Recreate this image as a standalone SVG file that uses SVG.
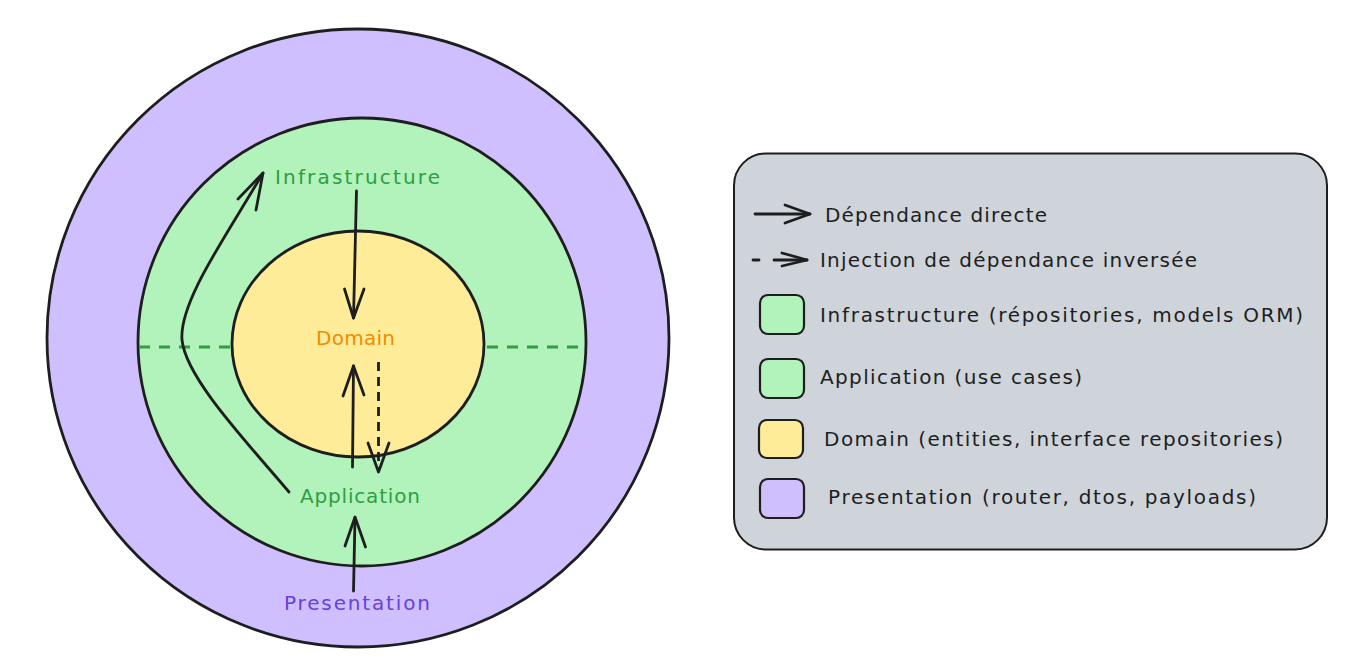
<svg xmlns="http://www.w3.org/2000/svg" width="1363" height="665" viewBox="0 0 1363 665">
<style>
  .ring { stroke: #1e1e1e; stroke-width: 2.8; }
  .lbl { font-family: "DejaVu Sans", "Liberation Sans", sans-serif; font-size: 20px; }
  .leg { font-family: "DejaVu Sans", "Liberation Sans", sans-serif; font-size: 20px; fill: #1e1e1e; }
  .arr { fill: none; stroke: #1e1e1e; stroke-width: 2.8; stroke-linecap: round; stroke-linejoin: round; }
  .dash { stroke-dasharray: 9 6; stroke-linecap: butt; }
  .gdash { fill: none; stroke: #2f9e44; stroke-width: 3; stroke-dasharray: 11 9; }
  .sw { stroke: #1e1e1e; stroke-width: 2.2; }
</style>
<rect width="1363" height="665" fill="#ffffff"/>

<g id="node-presentation">
  <ellipse class="ring" cx="358" cy="338" rx="311" ry="309" fill="#d0bfff"/>
  <text class="lbl" x="284" y="610" fill="#6741d9" textLength="146">Presentation</text>
</g>

<g id="node-application-infrastructure">
  <ellipse class="ring" cx="362" cy="342" rx="224" ry="224" fill="#b2f2bb"/>
  <line class="gdash" x1="139" y1="347" x2="232" y2="347"/>
  <line class="gdash" x1="487" y1="347" x2="585" y2="347"/>
  <text class="lbl" x="275" y="184" fill="#2f9e44" textLength="165">Infrastructure</text>
  <text class="lbl" x="300" y="503" fill="#2f9e44" textLength="120">Application</text>
</g>

<g id="node-domain">
  <ellipse class="ring" cx="358" cy="344" rx="126" ry="113" fill="#ffec99" stroke-width="3.2"/>
  <text class="lbl" x="316" y="345" fill="#f08c00" textLength="79">Domain</text>
</g>

<g id="connectors">
  <!-- Infrastructure -> Domain -->
  <path class="arr" d="M356.5,191 L353.5,318"/>
  <path class="arr" d="M344.5,289 L353.5,318 L364,289"/>
  <!-- Application -> Domain -->
  <path class="arr" d="M352.5,467 L353.5,366"/>
  <path class="arr" d="M343,396 L353.5,366 L364,395"/>
  <!-- Domain -. Application (injection) -->
  <path class="arr dash" d="M378.5,362 L378.5,470"/>
  <path class="arr" d="M368,443 L378.5,472 L389,443"/>
  <!-- Presentation -> Application -->
  <path class="arr" d="M353.5,591 L355,518"/>
  <path class="arr" d="M345,546 L355,517 L365.5,547"/>
  <!-- Application -> Infrastructure (curved) -->
  <path class="arr" d="M289,492 C 245,440 186,378 182,340 C 179,302 225,238 263,173"/>
  <path class="arr" d="M238,199 L263,173 L256,210"/>
</g>

<g id="legend">
  <rect x="734" y="153.5" width="593" height="396" rx="32" ry="32" fill="#ced4da" stroke="#1e1e1e" stroke-width="2"/>
  <path class="arr" d="M755,214 L810,214"/>
  <path class="arr" d="M785,205 L810,214 L785,223"/>
  <text class="leg" x="825" y="222" textLength="222">Dépendance directe</text>
  <path class="arr" d="M753,260 L759,260 M774,260 L807,260"/>
  <path class="arr" d="M782,253 L807,260 L782,266"/>
  <text class="leg" x="820" y="267" textLength="377">Injection de dépendance inversée</text>

  <g id="legend-infrastructure">
    <rect class="sw" x="760" y="295" width="44" height="39" rx="8" fill="#b2f2bb"/>
    <text class="leg" x="820" y="322" textLength="483">Infrastructure (répositories, models ORM)</text>
  </g>
  <g id="legend-application">
    <rect class="sw" x="760" y="359" width="44" height="39" rx="8" fill="#b2f2bb"/>
    <text class="leg" x="820" y="384" textLength="262">Application (use cases)</text>
  </g>
  <g id="legend-domain">
    <rect class="sw" x="759" y="420" width="44" height="38" rx="8" fill="#ffec99"/>
    <text class="leg" x="824" y="446" textLength="459">Domain (entities, interface repositories)</text>
  </g>
  <g id="legend-presentation">
    <rect class="sw" x="760" y="479" width="44" height="39" rx="8" fill="#d0bfff"/>
    <text class="leg" x="828" y="504" textLength="428">Presentation (router, dtos, payloads)</text>
  </g>
</g>
</svg>
